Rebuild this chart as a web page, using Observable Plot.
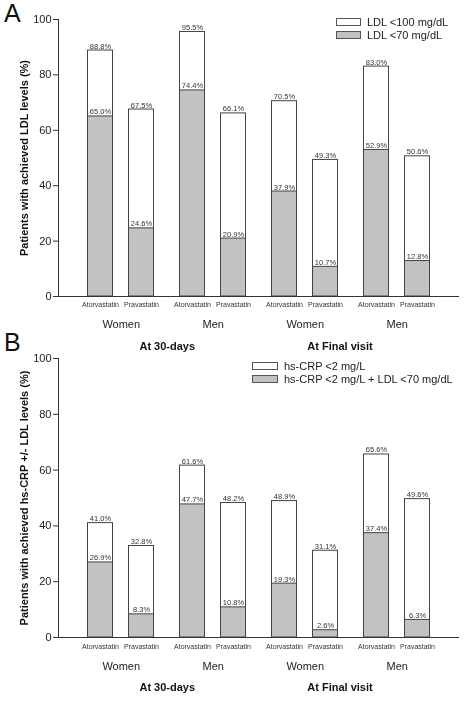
<!DOCTYPE html>
<html>
<head>
<meta charset="utf-8">
<script src="https://cdn.jsdelivr.net/npm/d3@7"></script>
<script src="https://cdn.jsdelivr.net/npm/@observablehq/plot@0.6"></script>
<style>
  html, body { margin: 0; padding: 0; background: #fff; }
  #wrap { position: relative; width: 466px; height: 702px; overflow: hidden; font-family: "Liberation Sans", Arial, sans-serif; color: #222; }
  .panel { position: absolute; left: 0; will-change: transform; -webkit-font-smoothing: antialiased; }
  .letter { position: absolute; left: 4px; font-size: 25px; line-height: 1; color: #111; }
  .legend { position: absolute; font-size: 11px; color: #222; }
  .legend .row { display: flex; align-items: center; height: 13px; }
  .legend .sw { width: 25px; height: 8px; border: 1px solid #555; margin-right: 6px; box-sizing: border-box; }
</style>
</head>
<body>
<div id="wrap">
  <div class="letter" style="top:1px">A</div>
  <div class="letter" style="top:330px">B</div>
</div>
<script>
// ---- data ----
const periods = ["At 30-days", "At 30-days", "At Final visit", "At Final visit"];
const groups = ["Women", "Men", "Women", "Men"];
const drugs = ["Atorvastatin", "Pravastatin"];

// Panel A (order: group x drug)
const ldl100 = [88.8, 67.5, 95.5, 66.1, 70.5, 49.3, 83.0, 50.6];
const ldl70  = [65.0, 24.6, 74.4, 20.9, 37.9, 10.7, 52.9, 12.8];
const legendA = ["LDL <100 mg/dL", "LDL <70 mg/dL"];
const titleA = "Patients with achieved LDL levels (%)";

// Panel B
const crp       = [41.0, 32.8, 61.6, 48.2, 48.9, 31.1, 65.6, 49.6];
const crpLdl70  = [26.9, 8.3, 47.7, 10.8, 19.3, 2.6, 37.4, 6.3];
const legendB = ["hs-CRP <2 mg/L", "hs-CRP <2 mg/L + LDL <70 mg/dL"];
const titleB = "Patients with achieved hs-CRP +/- LDL levels (%)";

const yTicks = [0, 20, 40, 60, 80, 100];

// ---- build rows ----
function rows(outer, inner) {
  const out = [];
  groups.forEach((g, gi) => {
    drugs.forEach((d, di) => {
      const i = gi * 2 + di;
      out.push({key: periods[gi] + "|" + g + "|" + d, period: periods[gi], group: g, drug: d, outer: outer[i], inner: inner[i]});
    });
  });
  return out;
}

const FONT = "'Liberation Sans', Arial, sans-serif";
const SHIFT = 2.5;

function panel(data, title, opts) {
  const ator = data.filter(d => d.drug === "Atorvastatin");
  const prav = data.filter(d => d.drug === "Pravastatin");
  const groupRows = ator;
  const p30 = data.filter(d => d.period === "At 30-days" && d.group === "Women" && d.drug === "Pravastatin");
  const pFinal = data.filter(d => d.period === "At Final visit" && d.group === "Women" && d.drug === "Pravastatin");
  const fmt = v => v.toFixed(1) + "%";
  const barMarks = (sub, dx) => [
    Plot.barY(sub, {x: "key", y: "outer", fill: "white", stroke: "#444", strokeWidth: 1, dx}),
    Plot.barY(sub, {x: "key", y: "inner", fill: "#c2c2c2", stroke: "#444", strokeWidth: 1, dx}),
    Plot.text(sub, {x: "key", y: "outer", text: d => fmt(d.outer), dx, dy: -2, lineAnchor: "bottom", fontSize: 7.5, fill: "#333"}),
    Plot.text(sub, {x: "key", y: "inner", text: d => fmt(d.inner), dx, dy: -2, lineAnchor: "bottom", fontSize: 7.5, fill: "#333"}),
    Plot.text(sub, {x: "key", text: "drug", frameAnchor: "bottom", dx, dy: opts.dyDrug, fontSize: 7, fill: "#333"})
  ];
  return Plot.plot({
    width: 466,
    height: opts.height,
    marginLeft: 58,
    marginRight: 7,
    marginTop: opts.marginTop,
    marginBottom: opts.marginBottom,
    style: {fontFamily: FONT, fontSize: "11px", background: "transparent", overflow: "visible", color: "#222"},
    x: {domain: data.map(d => d.key), paddingInner: 0.462, paddingOuter: 0.543, axis: null},
    y: {domain: [0, 100]},
    marks: [
      ...barMarks(ator, SHIFT),
      ...barMarks(prav, -SHIFT),
      Plot.ruleY([0], {stroke: "#333"}),
      Plot.frame({anchor: "left", stroke: "#333"}),
      Plot.axisY({ticks: yTicks, tickSize: 5, tickPadding: 2, label: null, fontSize: 11, stroke: "#333"}),
      Plot.text([title], {frameAnchor: "left", rotate: -90, textAnchor: "middle", dx: -34, fontWeight: "bold", fontSize: 11, fill: "#111"}),
      Plot.text(groupRows, {x: "key", text: "group", frameAnchor: "bottom", dx: SHIFT + 20.75, dy: opts.dyGroup, fontSize: 11, fill: "#222"}),
      Plot.text(p30, {x: "key", text: "period", frameAnchor: "bottom", dx: 23.25, dy: opts.dyPeriod, fontSize: 11, fontWeight: "bold", fill: "#111"}),
      Plot.text(pFinal, {x: "key", text: "period", frameAnchor: "bottom", dx: 12, dy: opts.dyPeriod, fontSize: 11, fontWeight: "bold", fill: "#111"})
    ]
  });
}

const wrap = document.getElementById("wrap");

const plotA = panel(rows(ldl100, ldl70), titleA, {height: 360, marginTop: 19, marginBottom: 64, dyDrug: 10, dyGroup: 31, dyPeriod: 53});
plotA.classList.add("panel");
plotA.style.top = "0px";
wrap.appendChild(plotA);

const plotB = panel(rows(crp, crpLdl70), titleB, {height: 362, marginTop: 18, marginBottom: 65, dyDrug: 11, dyGroup: 32, dyPeriod: 53});
plotB.classList.add("panel");
plotB.style.top = "340px";
wrap.appendChild(plotB);

function legend(labels, left, top, swW) {
  const div = document.createElement("div");
  div.className = "legend";
  div.style.left = left + "px";
  div.style.top = top + "px";
  const fills = ["#ffffff", "#c2c2c2"];
  labels.forEach((l, i) => {
    const row = document.createElement("div");
    row.className = "row";
    const sw = document.createElement("div");
    sw.className = "sw";
    sw.style.background = fills[i];
    sw.style.width = swW + "px";
    const t = document.createElement("span");
    t.textContent = l;
    row.appendChild(sw);
    row.appendChild(t);
    div.appendChild(row);
  });
  wrap.appendChild(div);
}
legend(legendA, 336, 15, 25);
legend(legendB, 252, 359, 26);
</script>
</body>
</html>
